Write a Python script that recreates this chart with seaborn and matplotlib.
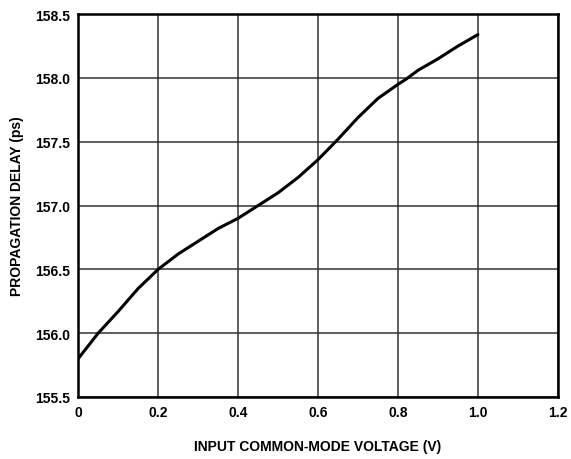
import pandas as pd
import matplotlib.pyplot as plt
import seaborn as sns

voltage = [0.0, 0.05, 0.1, 0.15, 0.2, 0.25, 0.3, 0.35, 0.4, 0.45, 0.5, 0.55,
           0.6, 0.65, 0.7, 0.75, 0.8, 0.82, 0.85, 0.9, 0.95, 1.0]
delay = [155.8, 156.0, 156.17, 156.35, 156.5, 156.62, 156.72, 156.82, 156.9, 157.0,
         157.1, 157.22, 157.36, 157.52, 157.69, 157.84, 157.95, 157.99, 158.06, 158.15,
         158.25, 158.34]
xticks = [0, 0.2, 0.4, 0.6, 0.8, 1.0, 1.2]
xlabels = ['0', '0.2', '0.4', '0.6', '0.8', '1.0', '1.2']
yticks = [155.5, 156.0, 156.5, 157.0, 157.5, 158.0, 158.5]

data = pd.DataFrame({'Voltage': voltage, 'Delay': delay})

sns.set_style('white')
plt.rcParams['font.family'] = ['Liberation Sans', 'DejaVu Sans']
plt.rcParams['font.weight'] = 'bold'
plt.rcParams['text.color'] = 'black'
plt.rcParams['axes.labelcolor'] = 'black'
plt.rcParams['xtick.color'] = 'black'
plt.rcParams['ytick.color'] = 'black'

fig = plt.figure(figsize=(5.71, 4.60), dpi=100)
ax = fig.add_axes([0.137, 0.135, 0.840, 0.832])

sns.lineplot(data=data, x='Voltage', y='Delay', ax=ax, color='black', linewidth=2.2)

ax.set_xlim(0, 1.2)
ax.set_ylim(155.5, 158.5)
ax.set_xticks(xticks)
ax.set_xticklabels(xlabels)
ax.set_yticks(yticks)
ax.set_yticklabels([f'{v:.1f}' for v in yticks])
ax.tick_params(length=0, labelsize=10, pad=6, colors='black')
for lbl in ax.get_xticklabels() + ax.get_yticklabels():
    lbl.set_fontweight('bold')

ax.grid(True, color='#333333', linewidth=1.1)
for s in ax.spines.values():
    s.set_color('black')
    s.set_linewidth(1.8)

ax.set_xlabel('INPUT COMMON-MODE VOLTAGE (V)', fontsize=10, fontweight='bold', labelpad=14, color='black')
ax.set_ylabel('PROPAGATION DELAY (ps)', fontsize=10, fontweight='bold', labelpad=8, color='black')

fig.savefig('out.png', dpi=100)
